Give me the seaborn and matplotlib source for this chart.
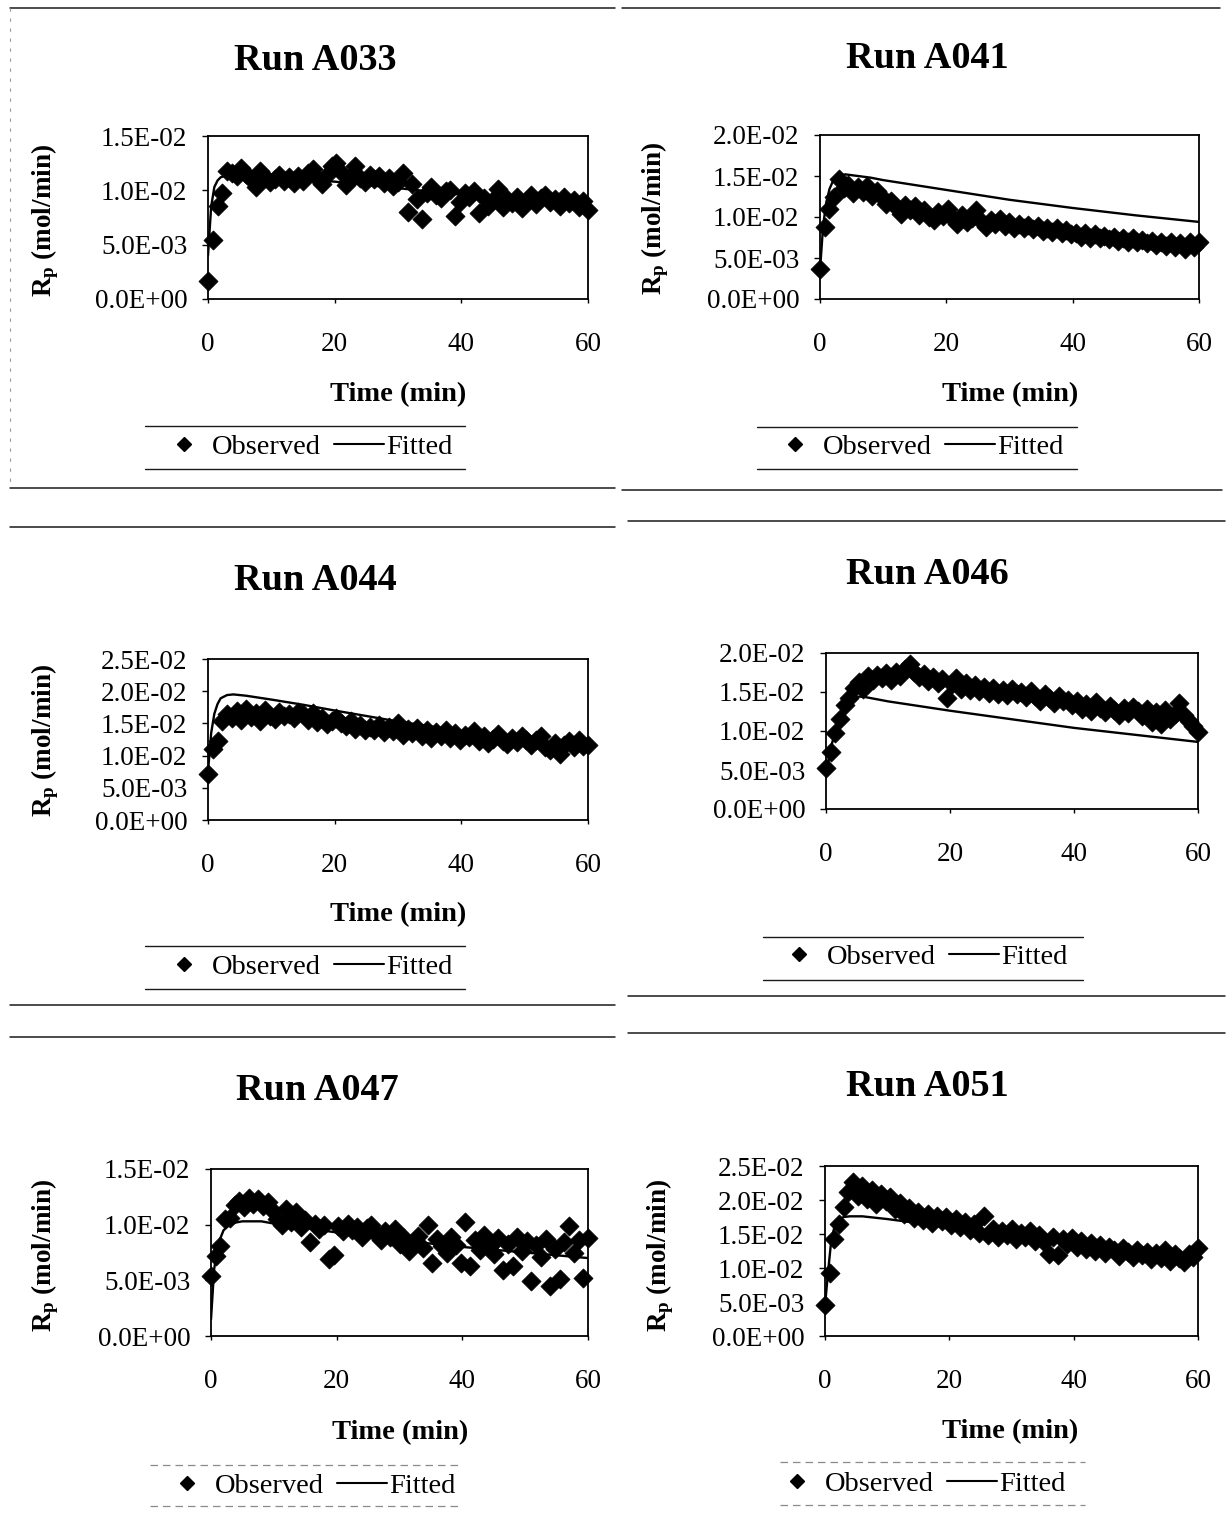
import matplotlib
matplotlib.use("Agg")
import matplotlib.pyplot as plt
import numpy as np
import seaborn as sns
from matplotlib.lines import Line2D
from matplotlib.ticker import FuncFormatter, FixedLocator

# ---------------------------------------------------------------- data
# sampling times of the observed polymerisation rate (min)
TIME_OBS = [
    0.0, 0.75, 1.5, 2.25, 3.0, 3.75, 4.5, 5.25, 6.0, 6.75,
    7.5, 8.25, 9.0, 9.75, 10.5, 11.25, 12.0, 12.75, 13.5, 14.25,
    15.0, 15.75, 16.5, 17.25, 18.0, 18.75, 19.5, 20.25, 21.0, 21.75,
    22.5, 23.25, 24.0, 24.75, 25.5, 26.25, 27.0, 27.75, 28.5, 29.25,
    30.0, 30.75, 31.5, 32.25, 33.0, 33.75, 34.5, 35.25, 36.0, 36.75,
    37.5, 38.25, 39.0, 39.75, 40.5, 41.25, 42.0, 42.75, 43.5, 44.25,
    45.0, 45.75, 46.5, 47.25, 48.0, 48.75, 49.5, 50.25, 51.0, 51.75,
    52.5, 53.25, 54.0, 54.75, 55.5, 56.25, 57.0, 57.75, 58.5, 59.25,
    60.0,
]

# observed Rp, in units of 1E-03 mol/min
OBS_A033 = [
    1.7, 5.4, 8.6, 9.8, 11.8, 11.6, 11.3, 12.1, 11.5, 11.0,
    10.3, 11.8, 11.2, 10.8, 11.0, 11.4, 10.9, 11.2, 10.7, 11.3,
    10.9, 11.6, 12.0, 11.1, 10.6, 11.4, 12.2, 12.5, 11.7, 10.5,
    11.3, 12.2, 11.1, 10.8, 11.4, 11.0, 11.3, 10.7, 11.1, 10.4,
    10.8, 11.6, 8.0, 10.6, 9.2, 7.4, 9.8, 10.3, 9.6, 9.3,
    9.9, 10.0, 7.6, 8.9, 9.8, 9.4, 9.9, 7.9, 9.3, 8.6,
    9.1, 10.1, 8.5, 9.2, 8.8, 9.4, 8.4, 9.0, 9.6, 8.7,
    9.3, 9.6, 8.9, 9.2, 8.6, 9.4, 8.8, 9.1, 8.5, 9.0,
    8.2,
]
OBS_A041 = [
    3.6, 8.8, 11.0, 12.4, 14.6, 13.5, 13.9, 12.9, 13.6, 13.1,
    13.8, 12.6, 13.2, 12.4, 11.6, 11.9, 11.2, 10.4, 11.5, 10.8,
    11.3, 10.2, 10.9, 10.0, 9.6, 10.6, 10.1, 11.0, 9.7, 9.2,
    10.3, 9.4, 9.9, 10.8, 9.5, 8.8, 9.6, 9.1, 9.7, 8.9,
    9.4, 8.7, 9.2, 8.6, 9.0, 8.5, 8.9, 8.3, 8.7, 8.2,
    8.6, 8.0, 8.4, 7.9, 8.1, 7.6, 8.0, 7.5, 7.9, 7.4,
    7.7, 7.3, 7.6, 7.1, 7.5, 7.0, 7.4, 6.9, 7.2, 6.8,
    7.1, 6.6, 7.0, 6.5, 6.9, 6.3, 6.8, 6.1, 7.0, 6.4,
    6.9,
]
OBS_A044 = [
    7.2, 11.0, 12.3, 15.4, 16.5, 15.8, 16.9, 15.5, 17.2, 16.0,
    16.6, 15.3, 17.1, 16.2, 15.7, 16.8, 16.1, 16.5, 15.9, 16.7,
    16.4, 15.6, 16.6, 15.2, 15.8, 14.9, 15.4, 15.9, 15.1, 14.6,
    15.3, 14.2, 14.8, 13.9, 14.5, 14.0, 14.7, 13.6, 14.4, 13.8,
    15.0, 13.2, 14.1, 13.5, 14.3, 13.0, 13.9, 12.8, 13.6, 13.1,
    14.0, 12.7, 13.5, 12.4, 13.2, 12.9, 13.8, 12.3, 13.0, 11.9,
    12.6, 13.4, 12.2, 11.8, 12.7, 12.1, 13.1, 12.5, 11.6, 12.4,
    13.0, 11.3, 10.8, 12.0, 10.2, 11.7, 12.3, 11.4, 12.5, 11.5,
    11.6,
]
OBS_A046 = [
    5.2, 7.3, 9.8, 11.6, 13.3, 14.2, 15.5, 16.3, 15.4, 17.0,
    16.5, 17.2, 16.8, 17.4, 16.6, 17.6, 17.1, 18.0, 18.6, 17.5,
    16.9, 17.3, 16.4, 16.9, 16.2, 16.7, 14.2, 16.0, 16.8, 15.4,
    16.1, 15.3, 15.9, 15.1, 15.7, 14.9, 15.5, 14.8, 15.3, 14.6,
    15.4, 14.7, 15.0, 14.3, 15.1, 14.5, 13.9, 14.8, 14.2, 13.6,
    14.5, 13.8, 14.0, 13.3, 13.9, 12.8, 13.5, 12.5, 13.7, 13.0,
    12.4, 13.2, 12.7, 12.0, 12.9, 12.3, 13.1, 12.6, 11.9, 12.8,
    11.2, 12.4, 10.9, 12.7, 11.6, 12.2, 13.6, 12.1, 11.3, 10.6,
    9.9,
]
OBS_A047 = [
    5.4, 7.2, 8.1, 10.5, 10.6, 11.8, 12.1, 11.6, 12.4, 11.9,
    12.3, 11.7, 12.0, 11.3, 10.5, 10.0, 11.4, 10.2, 11.1, 9.8,
    10.4, 8.4, 10.1, 9.6, 10.0, 6.9, 7.3, 9.9, 9.4, 10.1,
    9.5, 9.8, 8.9, 9.7, 10.0, 9.2, 8.6, 9.4, 8.9, 9.6,
    8.3, 8.8, 7.6, 8.5, 9.0, 7.9, 10.0, 6.6, 8.7, 8.1,
    7.5, 8.9, 8.2, 6.6, 10.2, 6.3, 8.6, 7.7, 9.1, 8.0,
    7.4, 8.8, 5.9, 8.3, 6.3, 8.9, 7.6, 8.5, 4.9, 8.2,
    7.1, 8.7, 4.5, 7.8, 5.1, 8.4, 9.9, 7.5, 8.6, 5.2,
    8.8,
]
OBS_A051 = [
    4.5, 9.2, 14.3, 16.5, 19.0, 21.2, 22.7, 20.6, 22.0, 20.1,
    21.5, 19.4, 20.9, 19.8, 20.5, 18.7, 19.6, 17.9, 18.8, 17.4,
    18.2, 17.0, 17.9, 16.6, 17.6, 16.9, 17.5, 16.3, 17.2, 16.0,
    16.8, 15.6, 16.4, 15.2, 17.6, 14.9, 15.8, 14.5, 15.5, 14.8,
    15.7, 14.3, 15.2, 14.6, 15.4, 14.0, 14.9, 13.8, 12.0, 14.5,
    11.9, 14.2, 13.6, 14.4, 13.1, 14.0, 12.8, 13.7, 12.5, 13.4,
    12.2, 13.1, 12.6, 11.8, 12.9, 12.3, 11.6, 12.7, 11.9, 12.4,
    11.3, 12.2, 11.5, 12.6, 11.1, 12.0, 11.4, 10.9, 12.1, 11.6,
    13.0,
]

# model (fitted) Rp, in units of 1E-03 mol/min
FIT_TIME = [0, 0.5, 1, 1.5, 2, 3, 4, 5, 6, 8, 10, 15, 20, 30, 40, 50, 60]
FIT_A033 = [4.0, 8.5, 10.3, 10.9, 11.2, 11.4, 11.4, 11.4, 11.4, 11.3, 11.2, 11.0, 10.8, 10.2, 9.6, 9.1, 8.6]
FIT_A041 = [3.5, 9.0, 11.8, 13.4, 14.3, 15.0, 15.2, 15.1, 15.0, 14.8, 14.5, 13.9, 13.3, 12.1, 11.1, 10.2, 9.4]
FIT_A044 = [7.5, 13.5, 16.5, 18.0, 18.9, 19.4, 19.5, 19.4, 19.3, 19.0, 18.7, 17.9, 17.0, 15.3, 13.8, 12.5, 11.3]
FIT_A046 = [4.5, 6.5, 8.5, 10.0, 11.2, 13.0, 14.0, 14.4, 14.4, 14.1, 13.8, 13.2, 12.6, 11.5, 10.4, 9.5, 8.6]
FIT_A047 = [1.5, 6.0, 7.8, 8.8, 9.5, 10.0, 10.2, 10.3, 10.3, 10.3, 10.1, 9.7, 9.3, 8.6, 8.0, 7.5, 7.0]
FIT_A051 = [4.5, 9.5, 14.0, 16.0, 17.0, 17.5, 17.6, 17.6, 17.6, 17.4, 17.2, 16.6, 15.9, 14.6, 13.4, 12.4, 11.5]

RUN_NAMES = ["Run A033", "Run A041", "Run A044", "Run A046", "Run A047", "Run A051"]
Y_MAX = [1.5e-2, 2.0e-2, 2.5e-2, 2.0e-2, 1.5e-2, 2.5e-2]
X_TICKS = [0, 20, 40, 60]
UNIT = 1e-3

OBSERVED = [OBS_A033, OBS_A041, OBS_A044, OBS_A046, OBS_A047, OBS_A051]
FITTED = [FIT_A033, FIT_A041, FIT_A044, FIT_A046, FIT_A047, FIT_A051]

# ---------------------------------------------------------------- layout (pixels)
W, H = 1227, 1524
LAYOUT = [
    # axes (l, t, r, b), title xy, ylabel xy, xlabel xy, legend centre, legend rule (x0, x1, ytop, ybot, faint)
    dict(ax=(208, 136, 588, 299), title=(315, 60), ylab=(45, 220), xlab=(398, 395),
         leg=(306, 447), rule=(145, 465, 426, 469, False)),
    dict(ax=(820, 135, 1199, 299), title=(927, 58), ylab=(655, 218), xlab=(1010, 395),
         leg=(917, 447), rule=(757, 1077, 427, 469, False)),
    dict(ax=(208, 659, 588, 820), title=(315, 580), ylab=(45, 740), xlab=(398, 915),
         leg=(306, 967), rule=(145, 465, 946, 989, False)),
    dict(ax=(826, 653, 1198, 809), title=(927, 575), ylab=None, xlab=None,
         leg=(921, 957), rule=(763, 1083, 937, 980, False)),
    dict(ax=(211, 1169, 588, 1336), title=(317, 1090), ylab=(45, 1255), xlab=(400, 1433),
         leg=(309, 1486), rule=(150, 460, 1465, 1506, True)),
    dict(ax=(825, 1166, 1198, 1336), title=(927, 1087), ylab=(660, 1255), xlab=(1010, 1432),
         leg=(919, 1484), rule=(780, 1085, 1462, 1505, True)),
]
# horizontal frame lines of the chart objects: (x0, x1, y)
FRAME_RULES = [
    (10, 615, 8), (10, 615, 488), (10, 615, 527), (10, 615, 1005), (10, 615, 1037),
    (622, 1220, 8), (622, 1222, 490), (628, 1225, 521), (628, 1225, 996), (628, 1225, 1033),
]

# ---------------------------------------------------------------- style
sns.set_theme(style="white", rc={
    "text.color": "black", "axes.labelcolor": "black",
    "xtick.color": "black", "ytick.color": "black", "axes.edgecolor": "black",
})
SERIF = ["Liberation Serif", "DejaVu Serif"]
plt.rcParams["font.family"] = SERIF
plt.rcParams["mathtext.fontset"] = "custom"
plt.rcParams["mathtext.rm"] = "Liberation Serif"
plt.rcParams["mathtext.it"] = "Liberation Serif:italic"
plt.rcParams["mathtext.bf"] = "Liberation Serif:bold"


def fx(x):
    return x / W


def fy(y):
    return 1 - y / H


fig = plt.figure(figsize=(W / 100, H / 100), dpi=100)
fig.patch.set_facecolor("white")

sci = FuncFormatter(lambda v, _pos: f"{v:.1E}")

for name, ymax, obs, fit, lay in zip(RUN_NAMES, Y_MAX, OBSERVED, FITTED, LAYOUT):
    l, t, r, b = lay["ax"]
    ax = fig.add_axes([fx(l), fy(b), (r - l) / W, (b - t) / H])

    sns.lineplot(x=FIT_TIME, y=np.asarray(fit) * UNIT, color="black", linewidth=1.7,
                 ax=ax, zorder=2, legend=False)
    sns.scatterplot(x=TIME_OBS, y=np.asarray(obs) * UNIT, marker="D", color="black",
                    edgecolor="black", linewidth=0.5, s=95, ax=ax, zorder=3,
                    clip_on=False, legend=False)

    ax.set_xlim(0, 60)
    ax.set_ylim(0, ymax)
    ax.xaxis.set_major_locator(FixedLocator(X_TICKS))
    ax.yaxis.set_major_locator(FixedLocator(np.linspace(0, ymax, int(round(ymax / 5e-3)) + 1)))
    ax.yaxis.set_major_formatter(sci)
    ax.set_xlabel("")
    ax.set_ylabel("")
    for sp in ax.spines.values():
        sp.set_visible(True)
        sp.set_color("black")
        sp.set_linewidth(1.3)
    ax.tick_params(axis="y", left=True, direction="out", length=4, width=1.0,
                   pad=11, labelsize=19.5, colors="black")
    ax.tick_params(axis="x", bottom=True, direction="out", length=3, width=1.0,
                   pad=21, labelsize=19.5, colors="black")

    fig.text(fx(lay["title"][0]), fy(lay["title"][1]), name, ha="center", va="center",
             fontsize=27.5, fontweight="bold", color="black")
    if lay["ylab"] is not None:
        fig.text(fx(lay["ylab"][0]), fy(lay["ylab"][1]), r"$\mathbf{R_p}$ (mol/min)",
                 rotation=90, ha="center", va="center", fontsize=19.5, fontweight="bold",
                 color="black")
    if lay["xlab"] is not None:
        fig.text(fx(lay["xlab"][0]), fy(lay["xlab"][1]), "Time (min)", ha="center",
                 va="center", fontsize=20.5, fontweight="bold", color="black")

    handles = [
        Line2D([], [], marker="D", color="black", linestyle="None", markersize=7.5),
        Line2D([], [], color="black", linewidth=1.5),
    ]
    leg = ax.legend(handles, ["Observed", "Fitted"], loc="center",
                    bbox_to_anchor=(fx(lay["leg"][0]), fy(lay["leg"][1])),
                    bbox_transform=fig.transFigure, ncol=2, frameon=False,
                    fontsize=20.5, handlelength=1.75, handletextpad=0.1,
                    columnspacing=0.45, borderpad=0.0)
    for txt in leg.get_texts():
        txt.set_color("black")

    x0, x1, ytop, ybot, faint = lay["rule"]
    for yy in (ytop, ybot):
        if faint:
            fig.add_artist(Line2D([fx(x0), fx(x1)], [fy(yy), fy(yy)], color="#8a8a8a",
                                  linewidth=0.9, linestyle=(0, (6, 4))))
        else:
            fig.add_artist(Line2D([fx(x0), fx(x1)], [fy(yy), fy(yy)], color="#1a1a1a",
                                  linewidth=1.0))

for x0, x1, yy in FRAME_RULES:
    fig.add_artist(Line2D([fx(x0), fx(x1)], [fy(yy), fy(yy)], color="#1a1a1a", linewidth=1.1))

# faint dotted left border of the first chart object
fig.add_artist(Line2D([fx(10), fx(10)], [fy(8), fy(488)], color="#9a9a9a",
                      linewidth=0.8, linestyle=(0, (3, 6))))

fig.savefig("out.png", dpi=100)
